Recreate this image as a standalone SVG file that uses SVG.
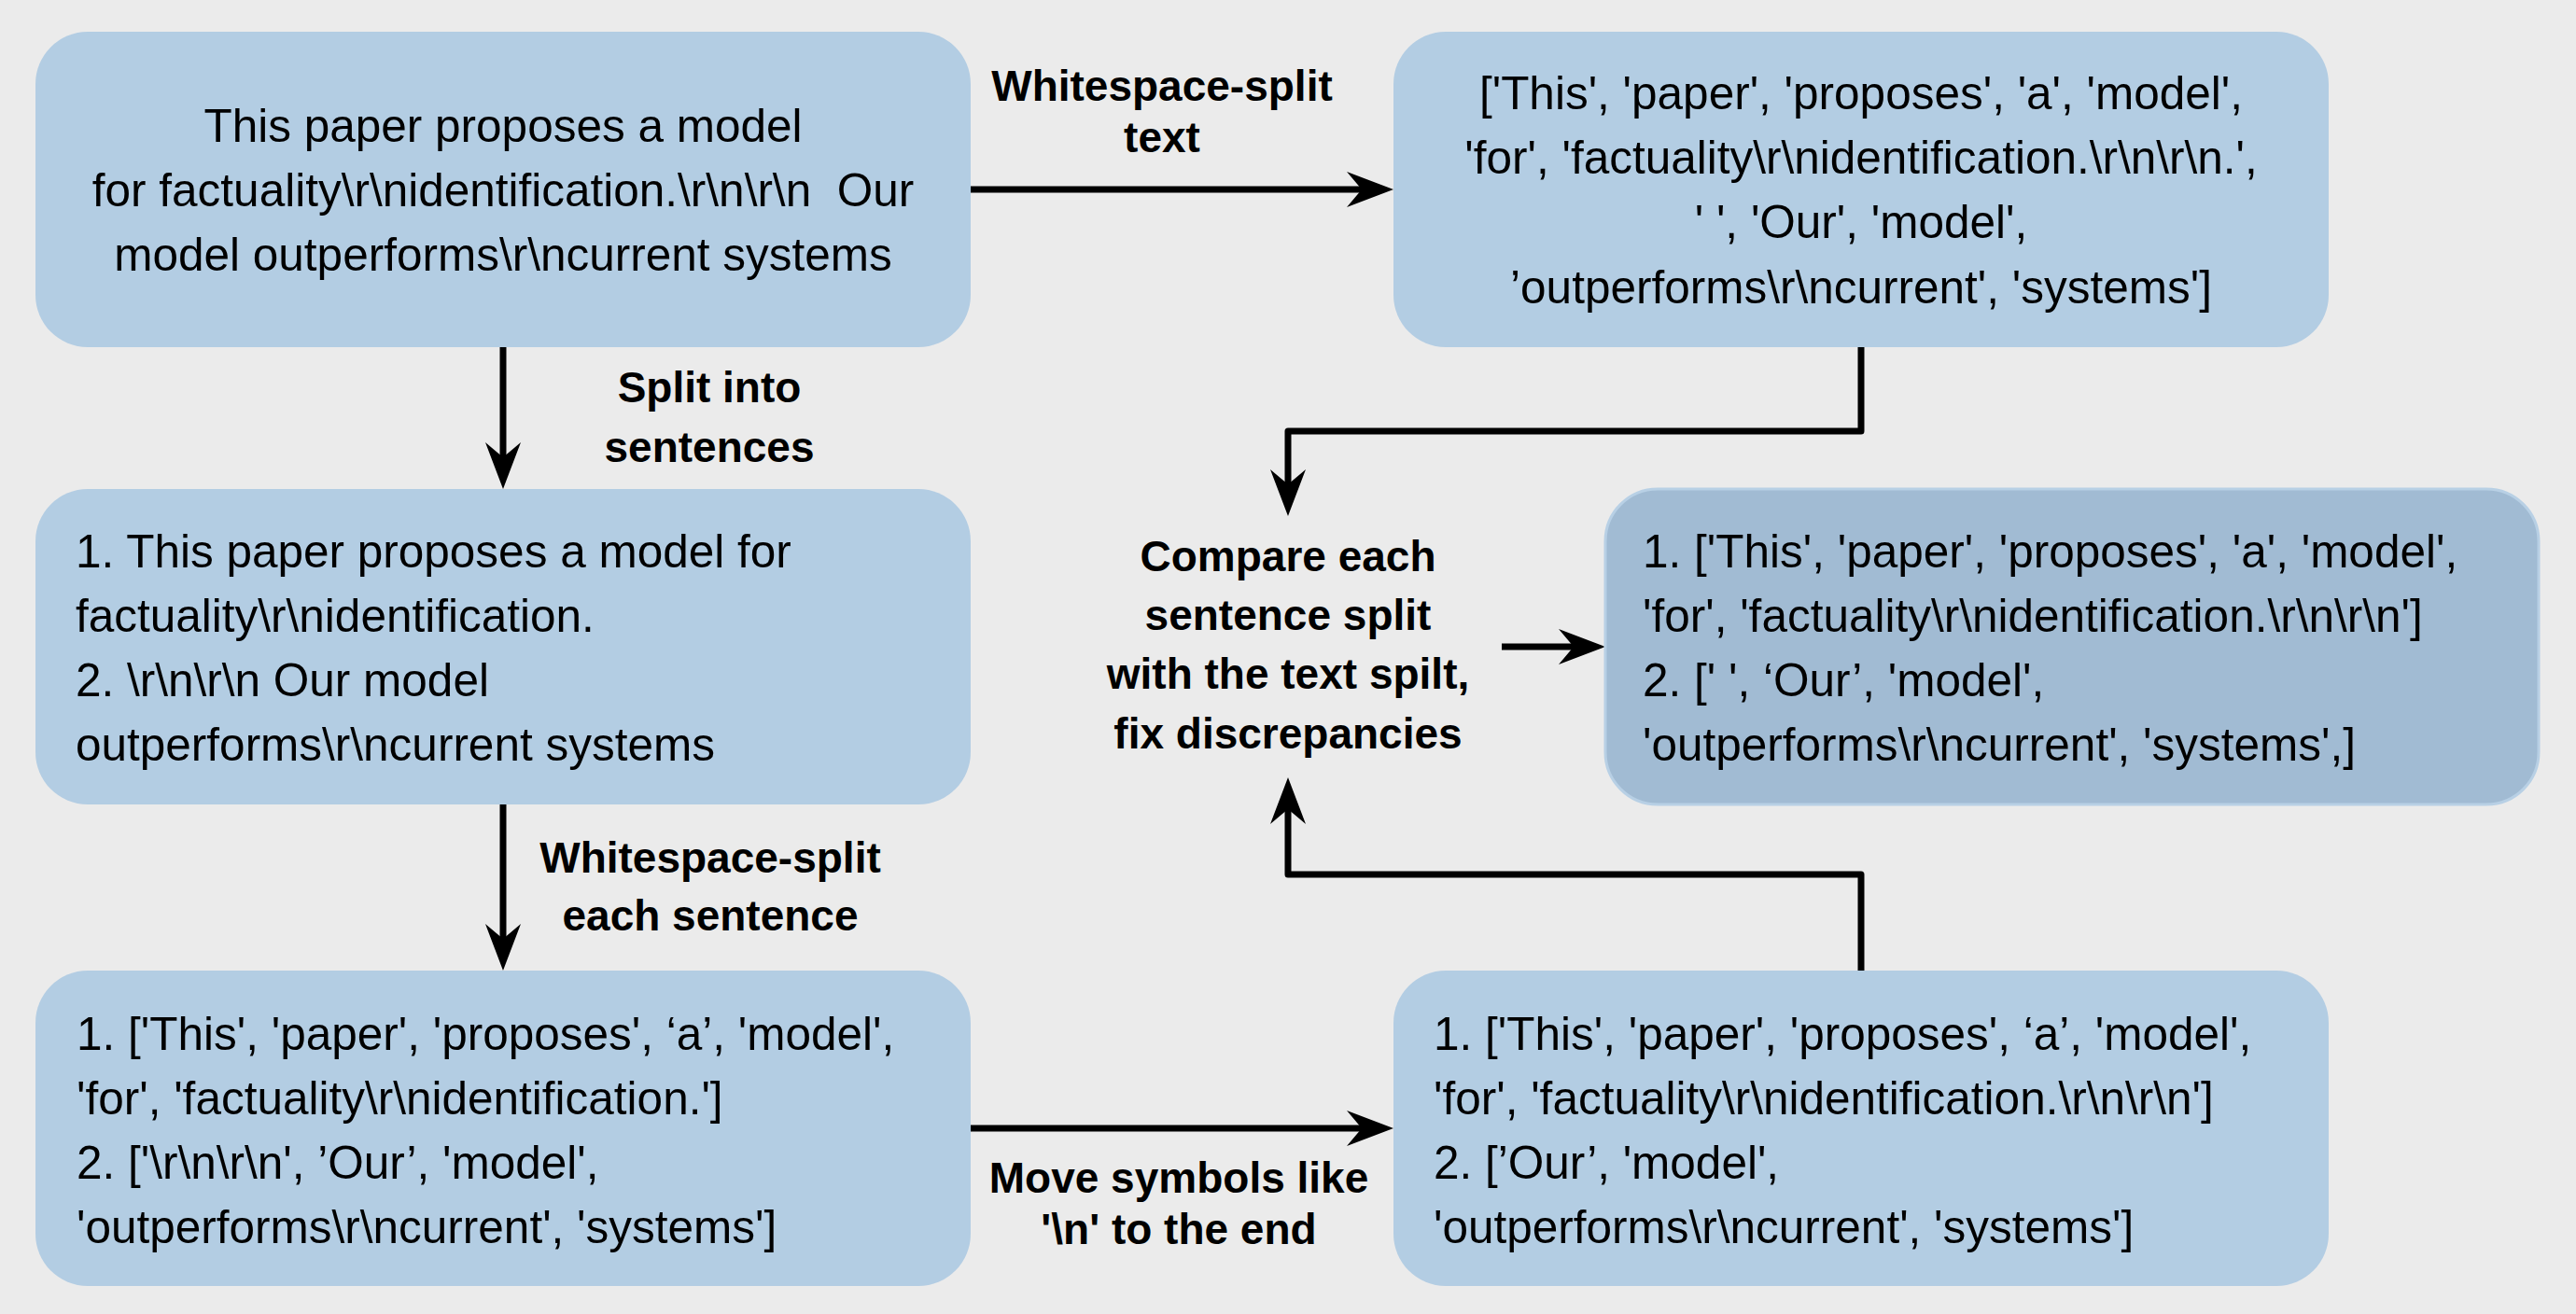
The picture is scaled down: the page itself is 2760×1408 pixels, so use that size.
<svg xmlns="http://www.w3.org/2000/svg" width="2760" height="1408" viewBox="0 0 2760 1408">
<defs>
<style>
.box{fill:#b3cde3;}
.out{fill:#a1bbd3;stroke:#b8d0e5;stroke-width:3;}
.t{font-family:"Liberation Sans",Arial,sans-serif;font-size:49.5px;fill:#000;white-space:pre;}
.c{text-anchor:middle;}
.lb{font-family:"Liberation Sans",Arial,sans-serif;font-size:46px;font-weight:bold;fill:#000;text-anchor:middle;}
.ln{fill:none;stroke:#000;stroke-width:7;stroke-linejoin:round;}
</style>
<marker id="ah" viewBox="-52 -21 54 42" refX="0" refY="0" markerWidth="54" markerHeight="42" markerUnits="userSpaceOnUse" orient="auto">
<path d="M0,0 L-50,-19 L-34,0 L-50,19 Z" fill="#000"/>
</marker>
</defs>
<rect x="0" y="0" width="2760" height="1408" fill="#ebebeb"/>

<g id="connectors">
<path class="ln" d="M1040,203 L1493,203" marker-end="url(#ah)" stroke-dasharray="423 100"/>
<path class="ln" d="M539,372 L539,524" marker-end="url(#ah)" stroke-dasharray="122 100"/>
<path class="ln" d="M539,862 L539,1040" marker-end="url(#ah)" stroke-dasharray="148 100"/>
<path class="ln" d="M1040,1209 L1493,1209" marker-end="url(#ah)" stroke-dasharray="423 100"/>
<path class="ln" d="M1994,372 L1994,462 L1380,462 L1380,553" marker-end="url(#ah)" stroke-dasharray="765 100"/>
<path class="ln" d="M1609,693 L1720,693" marker-end="url(#ah)" stroke-dasharray="81 100"/>
<path class="ln" d="M1994,1040 L1994,937 L1380,937 L1380,833" marker-end="url(#ah)" stroke-dasharray="791 100"/>
</g>

<g id="edge-labels">
<text class="lb" x="1245" y="108">Whitespace-split</text>
<text class="lb" x="1245" y="163">text</text>
<text class="lb" x="760" y="431">Split into</text>
<text class="lb" x="760" y="495">sentences</text>
<text class="lb" x="761" y="935">Whitespace-split</text>
<text class="lb" x="761" y="997">each sentence</text>
<text class="lb" x="1263" y="1278">Move symbols like</text>
<text class="lb" x="1263" y="1333">'\n' to the end</text>
</g>

<g id="node-text">
<rect class="box" x="38" y="34" width="1002" height="338" rx="56" ry="56"/>
<text class="t c" x="539" y="152">This paper proposes a model</text>
<text class="t c" x="539" y="221">for factuality\r\nidentification.\r\n\r\n  Our</text>
<text class="t c" x="539" y="290">model outperforms\r\ncurrent systems</text>
</g>

<g id="node-tokens">
<rect class="box" x="1493" y="34" width="1002" height="338" rx="56" ry="56"/>
<text class="t c" x="1994" y="117">['This', 'paper', 'proposes', 'a', 'model',</text>
<text class="t c" x="1994" y="186">'for', 'factuality\r\nidentification.\r\n\r\n.',</text>
<text class="t c" x="1994" y="255">' ', 'Our', 'model',</text>
<text class="t c" x="1994" y="325">’outperforms\r\ncurrent', 'systems']</text>
</g>

<g id="node-sentences">
<rect class="box" x="38" y="524" width="1002" height="338" rx="56" ry="56"/>
<text class="t" x="81" y="608">1. This paper proposes a model for</text>
<text class="t" x="81" y="677">factuality\r\nidentification.</text>
<text class="t" x="81" y="746">2. \r\n\r\n Our model</text>
<text class="t" x="81" y="815">outperforms\r\ncurrent systems</text>
</g>

<g id="node-compare">
<text class="lb" x="1380" y="612">Compare each</text>
<text class="lb" x="1380" y="675">sentence split</text>
<text class="lb" x="1380" y="738">with the text spilt,</text>
<text class="lb" x="1380" y="802">fix discrepancies</text>
</g>

<g id="node-result">
<rect class="out" x="1720" y="524" width="1000" height="338" rx="56" ry="56"/>
<text class="t" x="1760" y="608">1. ['This', 'paper', 'proposes', 'a', 'model',</text>
<text class="t" x="1760" y="677">'for', 'factuality\r\nidentification.\r\n\r\n']</text>
<text class="t" x="1760" y="746">2. [' ', ‘Our’, 'model',</text>
<text class="t" x="1760" y="815">'outperforms\r\ncurrent', 'systems',]</text>
</g>

<g id="node-sentence-tokens">
<rect class="box" x="38" y="1040" width="1002" height="338" rx="56" ry="56"/>
<text class="t" x="82" y="1125">1. ['This', 'paper', 'proposes', ‘a’, 'model',</text>
<text class="t" x="82" y="1194">'for', 'factuality\r\nidentification.']</text>
<text class="t" x="82" y="1263">2. ['\r\n\r\n', ’Our’, 'model',</text>
<text class="t" x="82" y="1332">'outperforms\r\ncurrent', 'systems']</text>
</g>

<g id="node-moved">
<rect class="box" x="1493" y="1040" width="1002" height="338" rx="56" ry="56"/>
<text class="t" x="1536" y="1125">1. ['This', 'paper', 'proposes', ‘a’, 'model',</text>
<text class="t" x="1536" y="1194">'for', 'factuality\r\nidentification.\r\n\r\n']</text>
<text class="t" x="1536" y="1263">2. [’Our’, 'model',</text>
<text class="t" x="1536" y="1332">'outperforms\r\ncurrent', 'systems']</text>
</g>
</svg>
